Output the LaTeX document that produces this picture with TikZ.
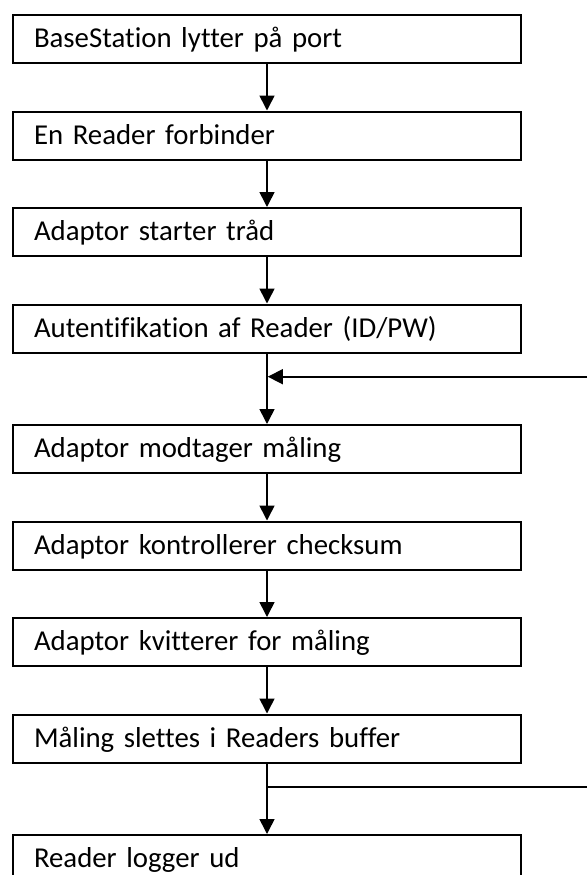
\documentclass[tikz,border=0pt]{standalone}
\usepackage{fontspec}
\setmainfont{Carlito}[Ligatures={NoCommon,TeX}]
\usetikzlibrary{arrows.meta}
\tikzset{
  stepbox/.style={draw, line width=1.5pt, anchor=north west,
    minimum width=381pt, inner xsep=15.75pt, inner ysep=0pt,
    text width=349.5pt, align=left, text height=24.5pt, text depth=11.5pt,
    font=\fontsize{21.6}{26}\selectfont},
  conn/.style={line width=1.2pt, -{Triangle[length=11.25pt,width=11.25pt]}},
  plain/.style={line width=1.2pt}
}
\begin{document}
\begin{tikzpicture}[x=0.75pt,y=-0.75pt]
\useasboundingbox (0,0) rectangle (587,875);
\clip (0,0) rectangle (587,875);
% process steps
\node[stepbox] (b1) at (12,14)    {BaseStation lytter på port};
\node[stepbox] (b2) at (12,110.5) {En Reader forbinder};
\node[stepbox] (b3) at (12,207)   {Adaptor starter tråd};
\node[stepbox] (b4) at (12,303.5) {Autentifikation af Reader (ID/PW)};
\node[stepbox] (b5) at (12,424)   {Adaptor modtager måling};
\node[stepbox] (b6) at (12,520.5) {Adaptor kontrollerer checksum};
\node[stepbox] (b7) at (12,617)   {Adaptor kvitterer for måling};
\node[stepbox] (b8) at (12,713.5) {Måling slettes i Readers buffer};
\node[stepbox] (b9) at (12,834)   {Reader logger ud};
% flow between steps
\draw[conn] (b1.south) -- (b2.north);
\draw[conn] (b2.south) -- (b3.north);
\draw[conn] (b3.south) -- (b4.north);
\draw[conn] (b4.south) -- (b5.north);
\draw[conn] (b5.south) -- (b6.north);
\draw[conn] (b6.south) -- (b7.north);
\draw[conn] (b7.south) -- (b8.north);
\draw[conn] (b8.south) -- (b9.north);
% loop entry and exit lines at the right edge
\coordinate (loopin) at (587,376.7);
\coordinate (loopout) at (587,786.7);
\draw[conn] (loopin) -- ([xshift=0.6pt]b4.south |- loopin);
\draw[plain] (b8.south |- loopout) -- (loopout);
\end{tikzpicture}
\end{document}
